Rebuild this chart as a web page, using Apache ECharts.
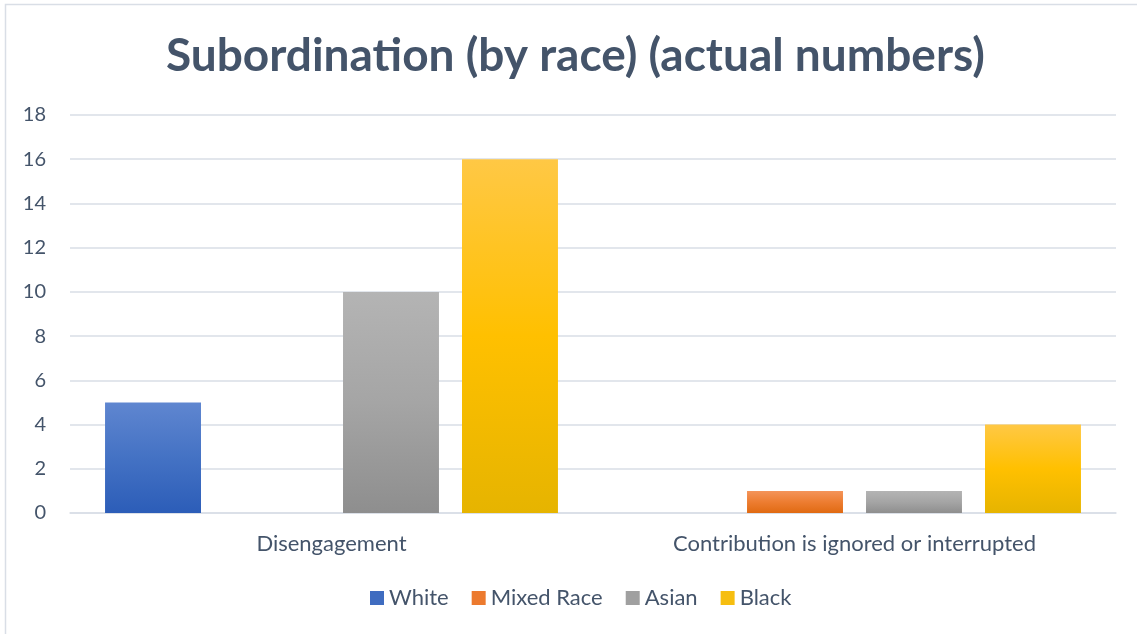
<!DOCTYPE html>
<html>
<head>
<meta charset="utf-8">
<script src="https://cdn.jsdelivr.net/npm/echarts@6/dist/echarts.min.js"></script>
<style>
  html, body { margin: 0; padding: 0; background: #fff; }
  #chart { width: 1137px; height: 634px; }
</style>
</head>
<body>
<div id="chart"></div>
<script>
const categories = ['Disengagement', 'Contribution is ignored or interrupted'];
const seriesNames = ['White', 'Mixed Race', 'Asian', 'Black'];
const white = [5, 0];
const mixedRace = [0, 1];
const asian = [10, 1];
const black = [16, 4];
const yTicks = [0, 2, 4, 6, 8, 10, 12, 14, 16, 18];

const textColor = '#44546A';
const font = 'Lato, "Open Sans", sans-serif';

function grad(top, mid, bottom) {
  return new echarts.graphic.LinearGradient(0, 0, 0, 1, [
    { offset: 0, color: top },
    { offset: 0.5, color: mid },
    { offset: 1, color: bottom }
  ]);
}

const fills = [
  grad('#5F86D0', '#4472C4', '#2C5DB8'),
  grad('#F4945A', '#ED7D31', '#E06A12'),
  grad('#B4B4B4', '#A5A5A5', '#8E8E8E'),
  grad('#FFC845', '#FFC000', '#E6B400')
];
const legendColors = ['#3F6CC0', '#EC7A2E', '#A0A0A0', '#F6BE10'];

const values = [white, mixedRace, asian, black];

const chart = echarts.init(document.getElementById('chart'));
chart.setOption({
  backgroundColor: '#fff',
  animation: false,
  title: {
    text: 'Subordination (by race) (actual numbers)',
    left: 161,
    top: 28,
    textStyle: { fontFamily: font, fontWeight: 'bold', fontSize: 46, color: textColor }
  },
  graphic: [{
    type: 'rect',
    shape: { x: 5.5, y: 4.5, width: 1200, height: 700 },
    style: { fill: 'none', stroke: '#D9DEE6', lineWidth: 1.5 },
    silent: true, z: -1
  }],
  legend: {
    bottom: 20,
    left: 365,
    itemWidth: 14,
    itemHeight: 14,
    itemGap: 23,
    icon: 'rect',
    textStyle: { fontFamily: font, fontSize: 22, color: textColor },
    data: seriesNames.map((n, i) => ({ name: n, itemStyle: { color: legendColors[i] } }))
  },
  grid: { left: 70, right: 21, top: 115, bottom: 121, containLabel: false },
  xAxis: {
    type: 'category',
    data: categories,
    axisLine: { show: true, lineStyle: { color: '#D9DEE6', width: 1.5 } },
    axisTick: { show: false },
    axisLabel: { fontFamily: font, fontSize: 22, color: textColor, margin: 20 }
  },
  yAxis: {
    type: 'value',
    min: yTicks[0],
    max: yTicks[yTicks.length - 1],
    interval: 2,
    axisLine: { show: false },
    axisTick: { show: false },
    splitLine: { lineStyle: { color: '#D9DEE6', width: 1.5 } },
    axisLabel: { fontFamily: font, fontSize: 20, color: textColor, margin: 24 }
  },
  series: seriesNames.map((name, i) => ({
    name,
    type: 'bar',
    data: values[i],
    barGap: '24%',
    barCategoryGap: '13.4%',
    itemStyle: { color: fills[i] }
  }))
});
</script>
</body>
</html>
